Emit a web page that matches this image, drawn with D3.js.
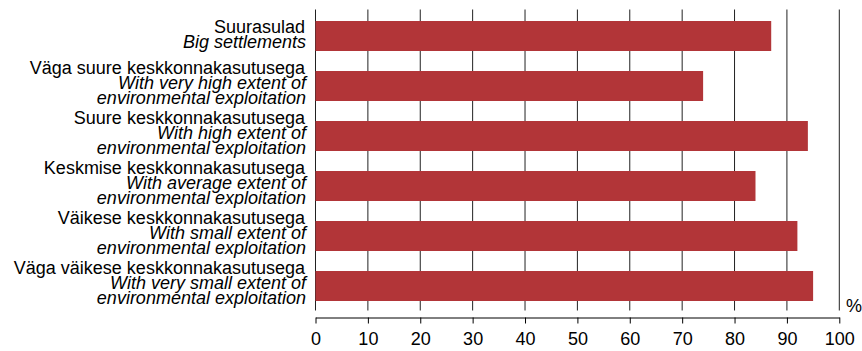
<!DOCTYPE html>
<html><head><meta charset="utf-8">
<script src="https://cdn.jsdelivr.net/npm/d3@7"></script>
<style>body{margin:0;background:#fff}svg{display:block}text{font-family:"Liberation Sans",Arial,sans-serif;fill:#000}</style>
</head><body>
<svg id="c" width="862" height="351"></svg>
<script>
const categoriesEt = ["Suurasulad","Väga suure keskkonnakasutusega","Suure keskkonnakasutusega","Keskmise keskkonnakasutusega","Väikese keskkonnakasutusega","Väga väikese keskkonnakasutusega"];
const categoriesEn = [["Big settlements"],["With very high extent of","environmental exploitation"],["With high extent of","environmental exploitation"],["With average extent of","environmental exploitation"],["With small extent of","environmental exploitation"],["With very small extent of","environmental exploitation"]];
const values = [87,74,94,84,92,95];
const xTicks = [0,10,20,30,40,50,60,70,80,90,100];
const unitLabel = "%";

const svg = d3.select("#c");
const x = d3.scaleLinear().domain([0,100]).range([315.5,839.3]);
const y = d3.scaleBand().domain(d3.range(values.length)).range([11,311]).paddingInner(0.4).paddingOuter(0.2);

// gridlines
svg.append("g").selectAll("line").data(xTicks).join("line")
  .attr("x1",d=>x(d)).attr("x2",d=>x(d)).attr("y1",9.5).attr("y2",310.5)
  .attr("stroke","#222").attr("stroke-width",1);

// bars
svg.append("g").selectAll("rect").data(values).join("rect")
  .attr("x",x(0)).attr("y",(d,i)=>y(i)).attr("width",d=>x(d)-x(0)).attr("height",y.bandwidth())
  .attr("fill","#B23538");

// x axis
const ax = svg.append("g").attr("transform","translate(0,317.5)")
  .call(d3.axisBottom(x).tickValues(xTicks).tickSize(6).tickPadding(9).tickSizeOuter(0));
ax.select(".domain").attr("stroke","#000");
ax.selectAll(".tick line").attr("stroke","#000");
ax.selectAll(".tick text").attr("font-size","18px").attr("font-family","Liberation Sans, Arial, sans-serif").attr("fill","#000");

svg.append("text").attr("x",846).attr("y",312).attr("font-size","18px").text(unitLabel);

// labels
const lg = svg.append("g");
categoriesEt.forEach((et,i)=>{
  const lines = [{t:et,it:false}].concat(categoriesEn[i].map(t=>({t,it:true})));
  const n = lines.length;
  const c = y(i)+y.bandwidth()/2;
  const first = n===2 ? c-3 : c-12.5;
  const t = lg.append("text").attr("text-anchor","end").attr("font-size","18px");
  lines.forEach((l,j)=>{
    t.append("tspan").attr("x",l.it?306:305).attr("y",first+j*15)
      .attr("font-style",l.it?"italic":"normal").text(l.t);
  });
});
</script>
</body></html>
